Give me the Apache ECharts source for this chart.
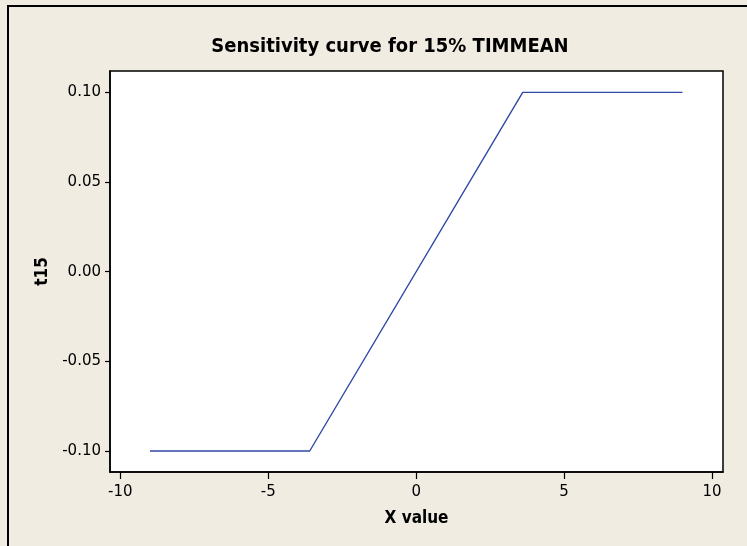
<!DOCTYPE html>
<html>
<head>
<meta charset="utf-8">
<script src="https://cdn.jsdelivr.net/npm/echarts@6/dist/echarts.min.js"></script>
<style>
  html, body { margin: 0; padding: 0; background: #f0ece2; }
  #chart { width: 747px; height: 546px; }
</style>
</head>
<body>
<div id="chart"></div>
<script>
// sensitivity curve points (x, t15)
const xValues = [-9, -3.6, 3.6, 9];
const t15Values = [-0.1, -0.1, 0.1, 0.1];
const xTicks = [-10, -5, 0, 5, 10];
const yTicks = [-0.10, -0.05, 0.00, 0.05, 0.10];

const boldFont = "DejaVu Sans Condensed, DejaVu Sans, sans-serif";
const tickFont = "DejaVu Sans, sans-serif";
let myChart = echarts.init(document.getElementById("chart"));

myChart.setOption({
  backgroundColor: "#f0ece2",
  animation: false,
  title: {
    text: "Sensitivity curve for 15% TIMMEAN",
    left: 385,
    top: 32,
    textAlign: "center",
    textStyle: { fontFamily: boldFont, fontWeight: "bold", fontSize: 20, color: "#000" },
  },
  graphic: [
    {
      type: "polyline",
      shape: { points: [[8, 546], [8, 6], [747, 6]] },
      style: { stroke: "#000", lineWidth: 2, fill: null },
    },
  ],
  grid: {
    left: 110,
    right: 24,
    top: 71,
    bottom: 74,
    show: true,
    backgroundColor: "#fff",
    borderColor: "#000",
    borderWidth: 1.5,
  },
  xAxis: {
    type: "value",
    min: -10.35,
    max: 10.37,
    name: "X value",
    nameLocation: "middle",
    nameGap: 38,
    nameTextStyle: { fontFamily: boldFont, fontWeight: "bold", fontSize: 17, color: "#000" },
    axisLine: { show: true, onZero: false, lineStyle: { color: "#000", width: 1.5 } },
    axisTick: { show: true, length: 7, lineStyle: { color: "#000", width: 1.2 }, customValues: xTicks },
    axisLabel: { fontFamily: tickFont, fontSize: 15, color: "#000", margin: 13, customValues: xTicks },
    splitLine: { show: false },
  },
  yAxis: {
    type: "value",
    min: -0.1117,
    max: 0.1119,
    name: "t15",
    nameLocation: "middle",
    nameGap: 59,
    nameRotate: 90,
    nameTextStyle: { fontFamily: boldFont, fontWeight: "bold", fontSize: 17, color: "#000" },
    axisLine: { show: true, onZero: false, lineStyle: { color: "#000", width: 1.5 } },
    axisTick: { show: true, length: 5, lineStyle: { color: "#000", width: 1.2 }, customValues: yTicks },
    axisLabel: {
      fontFamily: tickFont, fontSize: 15, color: "#000", margin: 9,
      customValues: yTicks,
      formatter: (v) => v.toFixed(2),
    },
    splitLine: { show: false },
  },
  series: [
    {
      name: "t15",
      type: "line",
      data: xValues.map((x, i) => [x, t15Values[i]]),
      symbol: "none",
      lineStyle: { color: "#3049a6", width: 1.4 },
    },
  ],
});
</script>
</body>
</html>
